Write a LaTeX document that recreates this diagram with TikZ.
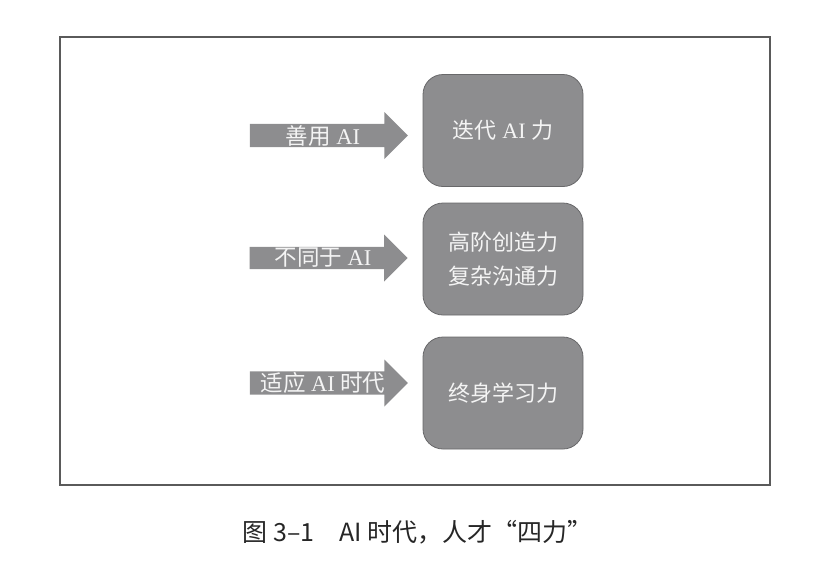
\documentclass[tikz,border=0pt]{standalone}
\usepackage{fontspec}
\setmainfont{Liberation Serif}
\newfontfamily\cjk{Noto Sans CJK SC}
\usetikzlibrary{shapes.arrows,positioning}
\definecolor{PowerGray}{HTML}{8D8D8F}
\definecolor{PowerEdge}{HTML}{68686A}
\definecolor{PowerText}{HTML}{F4F4F4}
\definecolor{FrameGray}{HTML}{5A5A5A}

\begin{document}
\begin{tikzpicture}[x=1pt, y=-1pt,
  power/.style={draw=PowerEdge, line width=0.8pt, fill=PowerGray,
                rounded corners=20pt, minimum width=160pt,
                minimum height=112pt, align=center, text=PowerText,
                font=\fontsize{22}{34}\selectfont},
  push/.style={single arrow, fill=PowerGray, minimum height=158pt,
               minimum width=47pt, single arrow head extend=11pt,
               single arrow tip angle=90, inner sep=0pt,
               text=PowerText, font=\fontsize{22.5}{24}\selectfont},
  frame/.style={draw=FrameGray, line width=1.3pt}
]
\useasboundingbox (0,0) rectangle (831,574);

% outer frame
\draw[frame] (60,37) rectangle (770,485);

% the three powers
\node[power] (iterate) at (503,130.5) {{\cjk 迭代} AI {\cjk 力}};
\node[power] (create)  at (503,259)   {{\cjk 高阶创造力}\\{\cjk 复杂沟通力}};
\node[power] (learn)   at (503,393)   {{\cjk 终身学习力}};

% arrows pointing at the powers
\node[push] (useai)   at (323,135.5) {{\cjk 善用} AI};
\node[push] (unlike)  at (323,258)   {{\cjk 不同于} AI};
\node[push] (adapt)   at (323,383)   {{\cjk 适应} AI {\cjk 时代}};

% caption
\node[font=\cjk\fontsize{25}{28}\selectfont, text=black!85] (caption)
  at (417.5,532) {图 3–1\hspace{1em}AI 时代，人才“四力”};

\end{tikzpicture}
\end{document}
